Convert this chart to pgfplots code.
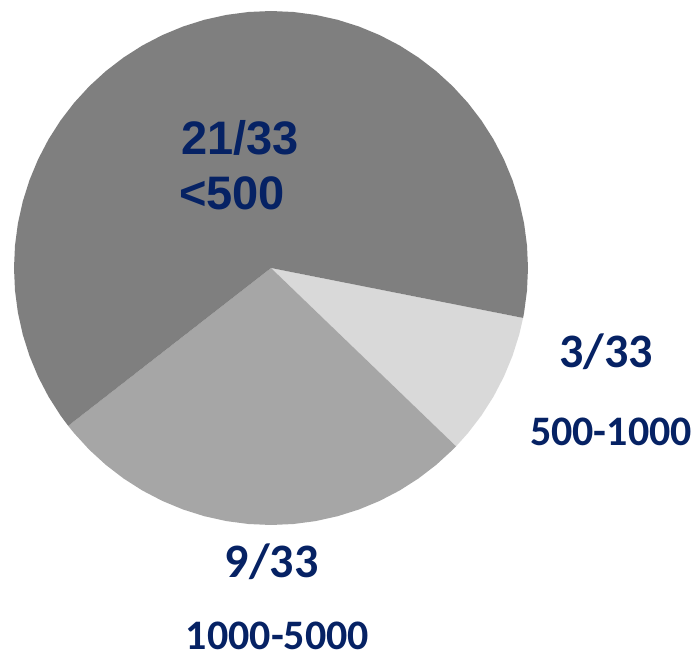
\documentclass[border=0pt]{standalone}
\usepackage{pgfplots}
\pgfplotsset{compat=1.18}
\usepgfplotslibrary{polar}
\usepackage{fontspec}
\newfontfamily\arialf{Liberation Sans}
\newfontfamily\calibrif{Carlito}
\definecolor{navy}{RGB}{6,34,100}
\definecolor{sdark}{RGB}{127,127,127}
\definecolor{smed}{RGB}{166,166,166}
\definecolor{slight}{RGB}{217,217,217}
\begin{document}
\begin{tikzpicture}
\begin{polaraxis}[
  scale only axis, width=514bp, height=514bp,
  ymin=0, ymax=1, hide axis, clip=false]
% slice sizes: 21/33 (<500), 3/33 (500-1000), 9/33 (1000-5000); start at -11.2 deg
\addplot[draw=none, fill=slight] coordinates {(0,0) (-43.93,1) (-40,1) (-35,1) (-30,1) (-25,1) (-20,1) (-15,1) (-11.2,1) (0,0)};
\addplot[draw=none, fill=smed] coordinates {(0,0) (-142.11,1) (-140,1) (-135,1) (-130,1) (-125,1) (-120,1) (-115,1) (-110,1) (-105,1) (-100,1) (-95,1) (-90,1) (-85,1) (-80,1) (-75,1) (-70,1) (-65,1) (-60,1) (-55,1) (-50,1) (-45,1) (-43.93,1) (0,0)};
\addplot[draw=none, fill=sdark] coordinates {(0,0) (-11.2,1) (-10,1) (-5,1) (0,1) (5,1) (10,1) (15,1) (20,1) (25,1) (30,1) (35,1) (40,1) (45,1) (50,1) (55,1) (60,1) (65,1) (70,1) (75,1) (80,1) (85,1) (90,1) (95,1) (100,1) (105,1) (110,1) (115,1) (120,1) (125,1) (130,1) (135,1) (140,1) (145,1) (150,1) (155,1) (160,1) (165,1) (170,1) (175,1) (180,1) (185,1) (190,1) (195,1) (200,1) (205,1) (210,1) (215,1) (217.89,1) (0,0)};
\coordinate (c) at (axis cs:0,0);
\end{polaraxis}
\path[use as bounding box] ([shift={(-271bp,-391bp)}]c) rectangle ([shift={(426bp,268bp)}]c);
\node[anchor=base west, inner sep=0, text=navy, font=\arialf\bfseries\fontsize{47bp}{56bp}\selectfont] at ([shift={(-90bp,113bp)}]c) {21/33};
\node[anchor=base west, inner sep=0, text=navy, font=\arialf\bfseries\fontsize{47bp}{56bp}\selectfont] at ([shift={(-92bp,58bp)}]c) {<500};
\node[anchor=base, inner sep=0, text=navy, font=\calibrif\bfseries\fontsize{48bp}{56bp}\selectfont] at ([shift={(335bp,-100bp)}]c) {3/33};
\node[anchor=base, inner sep=0, text=navy, font=\calibrif\bfseries\fontsize{42bp}{50bp}\selectfont] at ([shift={(340bp,-178bp)}]c) {500-1000};
\node[anchor=base, inner sep=0, text=navy, font=\calibrif\bfseries\fontsize{48bp}{56bp}\selectfont] at ([shift={(0.5bp,-309bp)}]c) {9/33};
\node[anchor=base, inner sep=0, text=navy, font=\calibrif\bfseries\fontsize{42bp}{50bp}\selectfont] at ([shift={(6.5bp,-381bp)}]c) {1000-5000};
\end{tikzpicture}
\end{document}
